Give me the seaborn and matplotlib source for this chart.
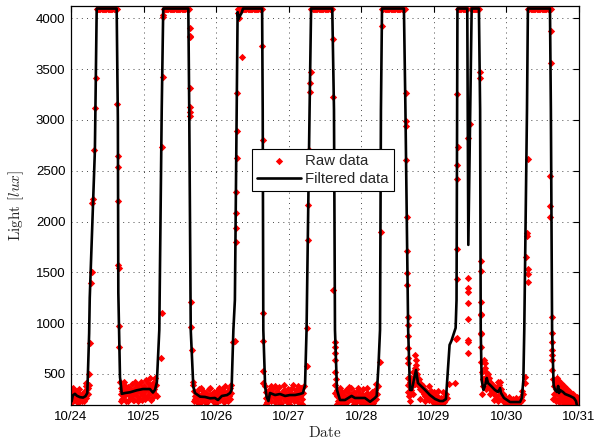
import matplotlib
matplotlib.use("Agg")
import matplotlib.pyplot as plt
import pandas as pd
import seaborn as sns

# ---------------- data (time in hours since 10/24 00:00, light in lux) ----------------
START = pd.Timestamp("2013-10-24")
SATURATED = 4095  # sensor saturation value read on the plateaus

# filtered signal (black line)
filt_pts = [
    (0.2, 230), (0.6, 290), (1.3, 305), (2.0, 285), (3.0, 272), (4.0, 268), (4.8, 282), (5.4, 313),
    (6.0, 900), (6.2, 1250), (7.9, 2700), (8.5, 4095),
    (15.1, 4095), (15.5, 3000), (15.65, 1300), (16.2, 470), (16.8, 305),
    (17.9, 313), (19.5, 320), (21.8, 340), (23.8, 352), (26.1, 352), (27.1, 318), (27.8, 345),
    (28.4, 420), (29.2, 933), (30.0, 3098), (30.5, 4095),
    (38.8, 4095), (39.1, 3098), (39.6, 933), (40.45, 375), (41.0, 313), (42.7, 277), (44.3, 274),
    (46.0, 261), (47.6, 264), (48.6, 244), (49.9, 284), (51.6, 293), (52.6, 313), (53.1, 343),
    (53.7, 933), (54.2, 1228), (54.8, 3098), (55.1, 4060), (55.4, 3990), (55.8, 4020), (56.4, 4050), (56.9, 4095),
    (63.2, 4095), (63.4, 3098), (63.6, 933), (64.2, 375), (64.7, 274), (65.3, 234), (65.8, 313), (67.5, 293),
    (69.1, 303), (70.8, 284), (72.4, 293), (74.1, 293), (75.7, 303), (76.7, 313),
    (77.4, 392), (77.9, 933), (78.9, 3098), (79.4, 4095),
    (86.4, 4095), (86.97, 3098), (87.3, 933), (87.96, 343), (88.96, 244), (90.6, 244), (92.8, 284),
    (93.9, 264), (95.6, 264), (97.2, 264), (98.9, 227), (100.5, 264), (101.1, 284),
    (101.7, 590), (102.2, 933), (102.5, 3098), (102.85, 4095),
    (110.1, 4095), (110.6, 3098), (111.5, 933), (112.1, 343), (112.7, 343), (114.1, 539), (114.75, 411),
    (117.1, 343), (118.7, 293), (120.4, 254), (122.0, 234), (123.0, 234), (124.0, 254),
    (125.2, 786), (125.8, 825), (127.2, 953), (127.5, 1228), (127.8, 4095),
    (131.05, 4095), (131.4, 1770), (132.5, 4095), (134.9, 4095),
    (135.3, 3098), (135.5, 933), (135.8, 441), (136.4, 343), (136.9, 382), (137.5, 461), (137.9, 411),
    (138.6, 392), (140.2, 343), (141.2, 323), (141.9, 362), (142.2, 313), (143.2, 264), (145.2, 224),
    (146.8, 224), (148.5, 224), (149.1, 264),
    (149.6, 441), (149.9, 933), (150.8, 3098), (151.1, 4095),
    (158.4, 4095), (158.7, 3098), (159.1, 933), (159.6, 392), (160.1, 343), (160.7, 323), (161.1, 382),
    (161.4, 313), (161.7, 343), (162.7, 323), (163.4, 303), (165.0, 284), (166.3, 264), (167.0, 234), (167.3, 195),
]

# raw samples: nights / transitions as (hour, lux) pairs, plateaus as saturated sample times
raw_night_0 = [(0.2, 290), (0.3, 330), (0.5, 250), (0.7, 360), (0.8, 300), (1.0, 340), (1.3, 280), (1.5, 320),
               (1.7, 250), (1.8, 300), (2.0, 330), (2.3, 260), (2.6, 300), (3.0, 240), (3.3, 260), (3.6, 230),
               (4.0, 270), (4.3, 300), (4.6, 330), (5.0, 380), (5.1, 410), (5.3, 350), (5.5, 300), (5.6, 360),
               (0.4, 220), (1.1, 240), (2.2, 210), (2.8, 350), (3.5, 300), (4.4, 230), (4.9, 260)]
raw_rise_0 = [(5.8, 392), (5.95, 500), (6.3, 800), (6.6, 1395), (6.8, 1500), (7.1, 2180), (7.3, 2220),
              (7.7, 2700), (7.9, 3120), (8.3, 3410)]
raw_top_0 = [8.5, 8.9, 9.3, 9.7, 10.1, 10.5, 10.9, 11.3, 11.7, 12.1, 12.5, 12.9, 13.3, 13.7, 14.1, 14.5, 14.9, 15.1]
raw_fall_0 = [(15.3, 3154), (15.5, 2640), (15.55, 2540), (15.6, 2200), (15.7, 1570), (15.8, 1540), (15.9, 769), (15.97, 975)]

raw_night_1 = [(16.2, 420), (16.4, 300), (16.6, 360), (16.8, 250), (17.0, 330), (17.3, 380), (17.6, 280), (17.9, 340),
               (18.2, 230), (18.5, 310), (18.8, 370), (19.1, 290), (19.4, 350), (19.7, 260), (20.0, 330), (20.3, 400),
               (20.6, 300), (20.9, 240), (21.2, 360), (21.5, 320), (21.8, 280), (22.1, 390), (22.4, 340), (22.7, 250),
               (23.0, 310), (23.3, 420), (23.6, 360), (23.9, 290), (24.2, 380), (24.5, 330), (24.8, 440), (25.1, 270),
               (25.4, 350), (25.7, 300), (26.0, 460), (26.3, 380), (26.6, 320), (26.9, 260), (27.2, 410), (27.5, 350),
               (27.8, 300), (28.1, 390), (16.5, 230), (17.5, 420), (18.0, 380), (19.0, 230), (20.5, 240), (21.0, 420),
               (22.0, 230), (23.5, 240), (24.6, 250), (25.5, 410), (26.5, 240), (27.0, 330), (27.7, 460), (28.3, 280)]
raw_rise_1 = [(29.9, 654), (30.0, 1097), (30.2, 2737), (30.3, 3425), (30.4, 4016), (30.5, 4032)]
raw_top_1 = [30.6, 31.0, 31.4, 31.8, 32.2, 32.6, 33.0, 33.4, 33.8, 34.2, 34.6, 35.0, 35.4, 35.8, 36.2, 36.6,
             37.0, 37.4, 37.8, 38.2, 38.6, 38.9]
raw_fall_1 = [(39.2, 3908), (39.2, 3826), (39.25, 3813), (39.3, 3317), (39.35, 3130), (39.35, 3075), (39.4, 3042),
              (39.8, 1211), (39.85, 965), (39.9, 736)]

raw_night_2 = [(40.3, 424), (40.5, 392), (40.7, 330), (40.9, 280), (41.1, 250), (41.4, 310), (41.7, 230), (42.0, 290),
               (42.3, 350), (42.6, 270), (42.9, 220), (43.2, 300), (43.5, 260), (43.8, 330), (44.1, 240), (44.4, 280),
               (44.7, 310), (45.0, 220), (45.3, 270), (45.6, 350), (45.9, 290), (46.2, 250), (46.5, 300), (46.8, 230),
               (47.1, 280), (47.4, 320), (47.7, 260), (48.0, 210), (48.3, 300), (48.6, 340), (48.9, 270), (49.2, 240),
               (49.5, 310), (49.8, 290), (50.1, 350), (50.4, 260), (50.7, 320), (51.0, 380), (51.3, 300), (51.6, 240),
               (51.9, 330), (52.2, 280), (52.5, 360), (52.8, 310), (53.0, 390), (40.6, 230), (41.9, 210), (43.0, 360),
               (44.6, 210), (46.0, 360), (47.5, 210), (49.0, 360), (50.5, 220), (52.0, 230), (52.7, 250)]
raw_rise_2 = [(53.7, 818), (54.1, 828), (54.5, 1800), (54.6, 1940), (54.6, 2080), (54.7, 2290), (54.75, 2625),
              (54.8, 2890), (55.0, 3262), (55.3, 4049), (55.6, 4000), (56.45, 3616)]
raw_top_2 = [55.2, 55.6, 56.0, 56.4, 56.8, 57.2, 57.6, 58.0, 58.4, 58.8, 59.2, 59.6, 60.0, 60.4, 60.8, 61.2,
             61.6, 62.0, 62.4, 62.8, 63.1]
raw_fall_2 = [(63.3, 3730), (63.45, 2800), (63.45, 2600), (63.5, 2400), (63.6, 1097), (63.6, 828), (63.6, 532), (63.65, 408)]

raw_night_3 = [(64.2, 380), (64.4, 320), (64.6, 260), (64.8, 220), (65.0, 300), (65.3, 250), (65.6, 340), (65.9, 280),
               (66.2, 230), (66.5, 310), (66.8, 360), (67.1, 270), (67.4, 220), (67.7, 300), (68.0, 330), (68.3, 250),
               (68.6, 290), (68.9, 370), (69.2, 260), (69.5, 210), (69.8, 310), (70.1, 280), (70.4, 340), (70.7, 240),
               (71.0, 300), (71.3, 260), (71.6, 350), (71.9, 220), (72.2, 290), (72.5, 320), (72.8, 250), (73.1, 360),
               (73.4, 280), (73.7, 230), (74.0, 310), (74.3, 340), (74.6, 260), (74.9, 300), (75.2, 220), (75.5, 330),
               (75.8, 280), (76.1, 360), (76.4, 250), (76.7, 310), (77.0, 380), (64.5, 200), (66.0, 380), (67.5, 380),
               (69.0, 200), (70.5, 390), (72.0, 200), (73.5, 390), (75.0, 380), (76.5, 200)]
raw_rise_3 = [(78.0, 579), (78.1, 950), (78.3, 1820), (78.5, 2160), (78.7, 2700), (79.2, 3278), (79.2, 3360), (79.3, 3475)]
raw_top_3 = [79.5, 79.9, 80.3, 80.7, 81.1, 81.5, 81.9, 82.3, 82.7, 83.1, 83.5, 83.9, 84.3, 84.7, 85.1, 85.5, 85.9, 86.3]
raw_fall_3 = [(86.5, 3793), (86.5, 3229), (86.8, 1330), (87.3, 818), (87.3, 769), (87.3, 703), (87.3, 638),
              (87.3, 523), (87.35, 392), (87.35, 310)]

raw_night_4 = [(87.6, 450), (87.9, 340), (88.1, 280), (88.3, 230), (88.6, 300), (88.9, 200), (89.2, 260), (89.5, 320),
               (89.8, 240), (90.1, 210), (90.4, 290), (90.7, 250), (91.0, 340), (91.3, 220), (91.6, 270), (91.9, 310),
               (92.2, 250), (92.5, 360), (92.8, 290), (93.1, 230), (93.4, 270), (93.7, 320), (94.0, 210), (94.3, 280),
               (94.6, 250), (94.9, 330), (95.2, 230), (95.5, 290), (95.8, 260), (96.1, 210), (96.4, 300), (96.7, 350),
               (97.0, 240), (97.3, 270), (97.6, 220), (97.9, 310), (98.2, 250), (98.5, 200), (98.8, 280), (99.1, 230),
               (99.4, 320), (99.7, 260), (100.0, 210), (100.3, 290), (100.6, 340), (100.9, 250), (101.2, 300),
               (101.5, 380), (88.0, 200), (89.0, 360), (90.5, 200), (92.0, 370), (93.5, 200), (95.0, 360), (96.5, 200),
               (98.0, 360), (99.5, 200), (101.0, 400)]
raw_rise_4 = [(102.2, 621), (102.4, 1897), (102.7, 3924)]
raw_top_4 = [102.9, 103.3, 103.7, 104.1, 104.5, 104.9, 105.3, 105.7, 106.1, 106.5, 106.9, 107.3, 107.7, 108.1,
             108.5, 108.9, 109.3, 109.7, 110.1, 110.3]
raw_fall_4 = [(110.7, 3262), (110.7, 2993), (110.7, 2944), (110.8, 2606), (111.0, 2048), (111.2, 1713), (111.2, 1491),
              (111.2, 1376), (111.4, 1064), (111.4, 982), (111.4, 877), (111.5, 753), (111.5, 654), (111.5, 605),
              (111.5, 458), (111.5, 392), (111.5, 326)]

raw_night_5 = [(111.9, 280), (112.1, 230), (112.3, 340), (112.5, 460), (112.8, 390), (113.0, 520), (113.2, 300),
               (113.4, 473), (113.6, 560), (113.8, 690), (114.0, 638), (114.1, 589), (114.2, 546), (114.4, 500),
               (114.6, 440), (114.8, 420), (115.0, 380), (115.2, 450), (115.4, 350), (115.7, 400), (116.0, 330),
               (116.3, 380), (116.6, 300), (116.9, 350), (117.2, 280), (117.5, 330), (117.8, 260), (118.1, 310),
               (118.4, 240), (118.7, 290), (119.0, 330), (119.3, 230), (119.6, 270), (119.9, 210), (120.2, 250),
               (120.5, 290), (120.8, 200), (121.1, 240), (121.4, 270), (121.7, 210), (122.0, 230), (122.3, 260),
               (122.6, 200), (122.9, 250), (123.2, 220), (123.5, 270), (123.8, 240), (124.1, 300), (124.4, 260),
               (112.2, 420), (113.1, 390), (113.9, 400), (115.5, 250), (117.0, 230), (118.5, 380), (120.0, 320),
               (121.5, 330), (123.0, 320)]
raw_rise_5 = [(124.9, 400), (127.0, 408), (127.2, 842), (127.55, 851), (127.55, 1432), (127.55, 1727),
              (127.65, 2416), (127.65, 2557), (127.9, 2737), (127.55, 3252)]
raw_top_5 = [127.9, 128.3, 128.7, 129.1, 129.5, 129.9, 130.3, 130.7, 131.0,
             132.4, 132.8, 133.2, 133.6, 134.0, 134.4, 134.8]
raw_dip_5 = [(131.2, 2820), (131.95, 2960), (131.4, 1442), (131.4, 1343), (131.45, 1310), (131.4, 1201),
             (131.4, 1038), (131.4, 835), (131.4, 812), (131.4, 703)]
raw_fall_5 = [(135.3, 3475), (135.3, 3410), (135.5, 1614), (135.5, 1516), (135.5, 1211), (135.5, 1090), (135.5, 891),
              (135.6, 1081), (135.6, 900), (135.6, 769), (135.6, 621)]

raw_night_6 = [(135.9, 520), (136.1, 450), (136.3, 380), (136.5, 638), (136.8, 605), (137.0, 556), (137.2, 523),
               (137.4, 473), (137.6, 420), (137.8, 500), (138.0, 441), (138.2, 380), (138.4, 460), (138.6, 350),
               (138.9, 410), (139.2, 330), (139.5, 380), (139.8, 300), (140.1, 375), (140.4, 280), (140.7, 340),
               (141.0, 260), (141.3, 424), (141.6, 392), (141.9, 300), (142.2, 350), (142.5, 250), (142.8, 300),
               (143.1, 220), (143.4, 270), (143.7, 200), (144.0, 250), (144.3, 230), (144.6, 200), (144.9, 260),
               (145.2, 210), (145.5, 240), (145.8, 200), (146.1, 250), (146.4, 220), (146.7, 200), (147.0, 260),
               (147.3, 210), (147.6, 240), (147.9, 200), (148.2, 250), (148.5, 220), (148.8, 270), (149.1, 240),
               (149.4, 300), (136.0, 300), (137.1, 350), (138.5, 300), (139.9, 240), (141.1, 230), (142.0, 420),
               (143.0, 300), (145.0, 270), (147.0, 200), (149.0, 330)]
raw_rise_6 = [(150.2, 473), (150.2, 408), (150.4, 1650), (151.0, 1408), (151.0, 1484), (151.0, 1530),
              (150.9, 1858), (150.95, 1884), (151.0, 2612)]
raw_top_6 = [151.2, 151.6, 152.0, 152.4, 152.8, 153.2, 153.6, 154.0, 154.4, 154.8, 155.2, 155.6, 156.0, 156.4,
             156.8, 157.2, 157.6, 158.0, 158.4, 158.6]
raw_fall_6 = [(158.6, 3870), (158.6, 3558), (158.5, 2450), (158.5, 2153), (158.5, 2048), (159.0, 1064), (159.0, 900),
              (159.0, 818), (159.0, 736), (159.0, 687), (159.0, 638)]

raw_night_7 = [(159.2, 540), (159.4, 450), (159.6, 380), (159.8, 300), (160.0, 420), (160.2, 250), (160.4, 350),
               (160.6, 458), (160.8, 300), (161.0, 400), (161.2, 441), (161.4, 375), (161.6, 260), (161.8, 330),
               (162.0, 411), (162.2, 280), (162.4, 350), (162.6, 230), (162.8, 300), (163.0, 380), (163.2, 250),
               (163.4, 320), (163.6, 220), (163.8, 290), (164.0, 350), (164.2, 240), (164.4, 300), (164.6, 210),
               (164.8, 270), (165.0, 320), (165.2, 230), (165.4, 280), (165.6, 200), (165.8, 260), (166.0, 300),
               (166.2, 220), (166.4, 270), (166.6, 240), (166.8, 200), (167.0, 260), (167.2, 230), (167.4, 270),
               (167.6, 220), (167.8, 250), (159.5, 250), (160.5, 230), (161.5, 220), (163.1, 200), (164.5, 330),
               (166.1, 210)]

x_tick_days = ["10/24", "10/25", "10/26", "10/27", "10/28", "10/29", "10/30", "10/31"]
y_ticks = [500, 1000, 1500, 2000, 2500, 3000, 3500, 4000]

# ---------------- assemble tables ----------------
pair_segments = [raw_night_0, raw_rise_0, raw_fall_0, raw_night_1, raw_rise_1, raw_fall_1,
                 raw_night_2, raw_rise_2, raw_fall_2, raw_night_3, raw_rise_3, raw_fall_3,
                 raw_night_4, raw_rise_4, raw_fall_4, raw_night_5, raw_rise_5, raw_dip_5, raw_fall_5,
                 raw_night_6, raw_rise_6, raw_fall_6, raw_night_7]
sat_segments = [raw_top_0, raw_top_1, raw_top_2, raw_top_3, raw_top_4, raw_top_5, raw_top_6]

raw_rows = [p for seg in pair_segments for p in seg]
raw_rows += [(h, SATURATED) for seg in sat_segments for h in seg]
raw = pd.DataFrame(raw_rows, columns=["hours", "Light"])
raw["Date"] = START + pd.to_timedelta(raw["hours"], unit="h")

filt = pd.DataFrame(filt_pts, columns=["hours", "Light"])
filt["Date"] = START + pd.to_timedelta(filt["hours"], unit="h")

# ---------------- plot ----------------
sns.set_theme(style="white")
plt.rcParams["font.family"] = ["Liberation Sans", "DejaVu Sans"]
plt.rcParams["mathtext.fontset"] = "cm"

fig = plt.figure(figsize=(6.04, 4.42), dpi=100)
ax = fig.add_axes([71 / 604, 37 / 442, 508 / 604, 399 / 442])

sns.scatterplot(data=raw, x="Date", y="Light", marker="D", s=14, color="red", linewidth=0,
                ax=ax, label="Raw data", zorder=2)
sns.lineplot(data=filt, x="Date", y="Light", color="black", linewidth=1.9, sort=False,
             estimator=None, ax=ax, label="Filtered data", zorder=3)

ax.set_xlim(START, START + pd.Timedelta(days=7))
ax.set_ylim(195, 4120)
ax.set_yticks(y_ticks)
ax.set_xticks([START + pd.Timedelta(days=i) for i in range(len(x_tick_days))])
ax.set_xticklabels(x_tick_days)

ax.grid(True, which="major", linestyle=(0, (1.2, 5.0)), color="0.2", linewidth=0.6)
for s in ax.spines.values():
    s.set_visible(True)
    s.set_color("black")
    s.set_linewidth(0.9)
ax.tick_params(direction="in", length=4, width=0.8, top=True, right=True, labelsize=9.5,
               colors="black", pad=4)

ax.set_xlabel(r"$\mathrm{Date}$", fontsize=11, labelpad=2)
ax.set_ylabel(r"$\mathrm{Light}\ [lux]$", fontsize=11, labelpad=7)

leg = ax.legend(loc="upper left", bbox_to_anchor=(0.356, 0.6416), borderaxespad=0, frameon=True,
                fancybox=False, framealpha=1, edgecolor="black", fontsize=10.8, handlelength=2.9,
                borderpad=0.35, labelspacing=0.25, handletextpad=0.3)
leg.get_frame().set_linewidth(0.8)

fig.savefig("out.png", dpi=100)
